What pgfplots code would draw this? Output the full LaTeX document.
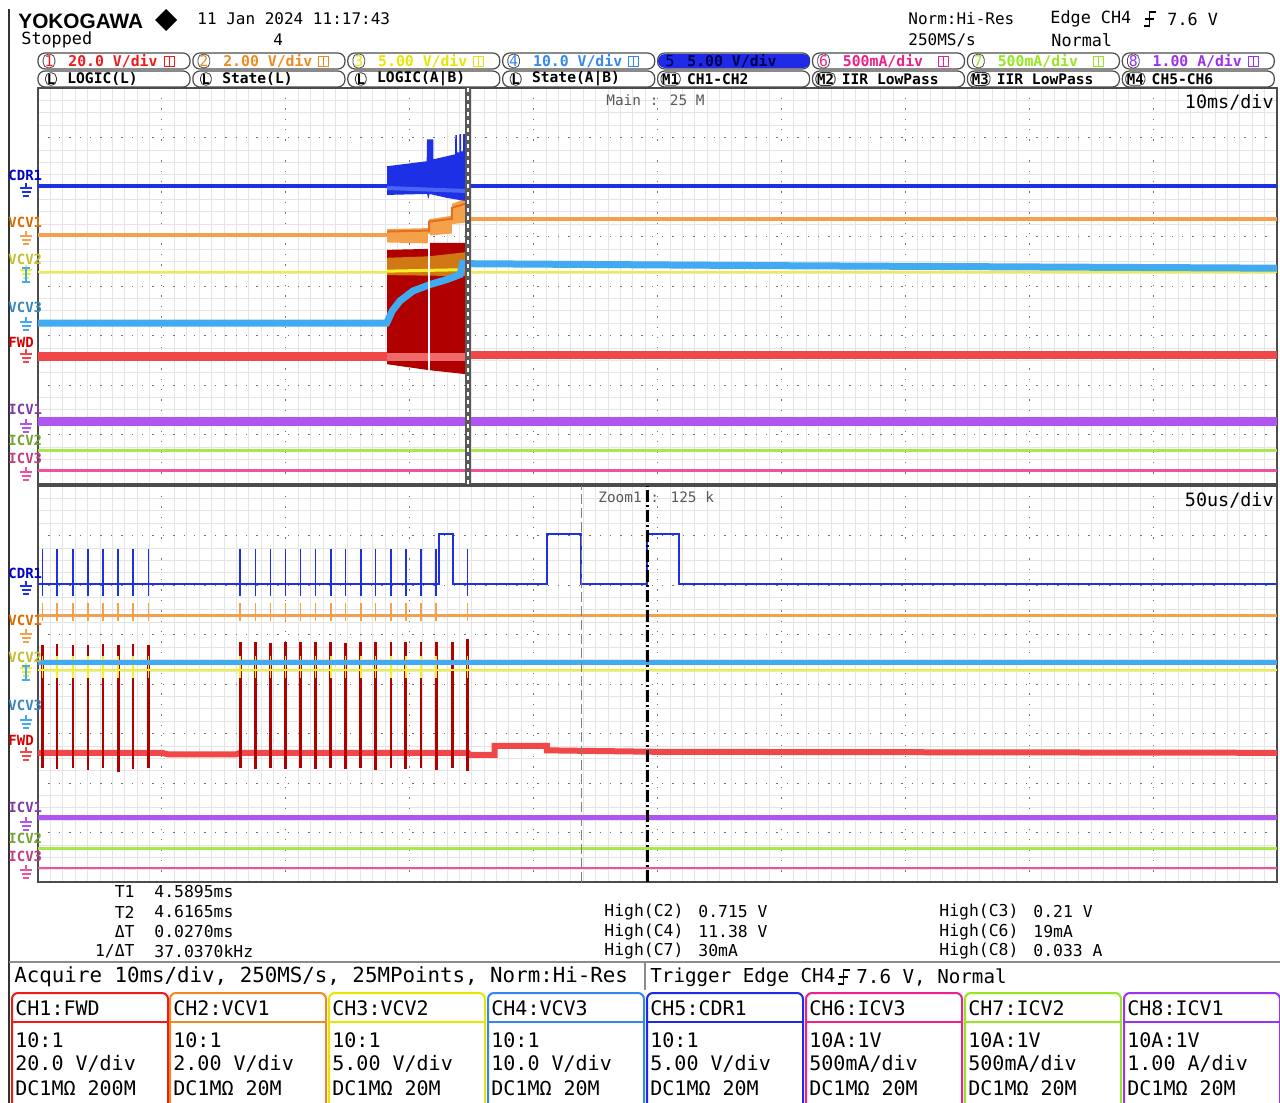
\documentclass[border=0pt]{standalone}
\usepackage{pgfplots}
\pgfplotsset{compat=1.18}
\usepackage{fontspec}
\setmainfont{DejaVu Sans Mono}
\newfontfamily\logofont{Liberation Sans}

% trace colours
\definecolor{cdrc}{HTML}{1E30E6}
\definecolor{cdrlt}{HTML}{4A66F2}
\definecolor{vcva}{HTML}{F5A04A}
\definecolor{vcvadk}{HTML}{E07020}
\definecolor{vcvb}{HTML}{F2F02A}
\definecolor{vcvc}{HTML}{42AAF0}
\definecolor{fwdc}{HTML}{F04848}
\definecolor{fwddk}{HTML}{B00000}
\definecolor{fwdlt}{HTML}{EE6A6A}
\definecolor{icva}{HTML}{B055F0}
\definecolor{icvb}{HTML}{A8E84A}
\definecolor{icvc}{HTML}{F0509C}
% channel label colours
\definecolor{chr}{HTML}{F01A1A}
\definecolor{cho}{HTML}{F08A20}
\definecolor{chy}{HTML}{E6E600}
\definecolor{chb}{HTML}{3388F0}
\definecolor{chB}{HTML}{1E2AE6}
\definecolor{chp}{HTML}{F0208A}
\definecolor{chg}{HTML}{96E620}
\definecolor{chv}{HTML}{9A30F0}

\newcommand\fs[1]{\fontsize{#1}{#1}\selectfont}
\newcommand\gnd[3]{% x, y, colour
  \draw[#3, line width=0.8pt] (#1,#2-5) -- (#1,#2)
    (#1-6,#2) -- (#1+6,#2) (#1-4.5,#2+4) -- (#1+4.5,#2+4) (#1-3,#2+8) -- (#1+3,#2+8);}
\newcommand\edgesym[3]{% x, y, half height
  \draw[line width=0.8pt] (#1,#2+#3) -- (#1+#3*0.8,#2+#3) -- (#1+#3*0.8,#2-#3) -- (#1+#3*1.7,#2-#3)
    (#1+#3*0.2,#2) -- (#1+#3*1.4,#2);}

\pgfplotsset{
  panel/.style={scale only axis, width=619.5pt, height=198pt, anchor=south west,
    xmin=0, xmax=10, ymin=0, ymax=8, xtick={0,...,10}, ytick={0,...,8},
    minor x tick num=9, minor y tick num=3, xticklabels={}, yticklabels={},
    tick style={draw=none}, grid=both,
    major grid style={black!55, line width=0.5pt, dash pattern=on 0.7pt off 4.5pt},
    minor grid style={black!10, line width=0.35pt},
    axis line style={black!70, line width=0.8pt},
    unbounded coords=jump, clip=true},
}

\begin{document}
\begin{tikzpicture}
\useasboundingbox (0,0) rectangle (640pt,-551.5pt);
\fill[white] (0,0) rectangle (640pt,-551.5pt);

% ---------------- main window (10ms/div) ----------------
\begin{axis}[panel, at={(19pt,-242pt)}]
\addplot[icvc, line width=1.5pt] coordinates {(0,0.27)(10,0.27)};
\addplot[icvb, line width=1.5pt] coordinates {(0,0.67)(10,0.67)};
\addplot[icva, line width=4.5pt] coordinates {(0,1.27)(10,1.27)};
% FWD
\addplot[fwdc, line width=4.5pt] coordinates {(0,2.57)(2.817,2.57)};
\addplot[fwdc, line width=4pt] coordinates {(3.495,2.61)(10,2.61)};
\addplot[fill=fwddk, draw=none] coordinates {(2.817,2.42)(2.817,4.73)(3.156,4.75)(3.156,4.87)(3.446,4.87)(3.446,2.22)(3.341,2.25)(3.156,2.30)} -- cycle;
\addplot[fwdlt, line width=4pt] coordinates {(2.817,2.57)(3.446,2.57)};
% VCV2
\addplot[vcvb, line width=1.2pt] coordinates {(0,4.28)(2.817,4.28)};
\addplot[fill=vcvb, draw=none, fill opacity=0.5] coordinates {(2.817,4.22)(2.817,4.57)(3.156,4.60)(3.446,4.68)(3.446,4.20)} -- cycle;
\addplot[vcvb, line width=1.5pt] coordinates {(2.817,4.30)(3.446,4.33)};
\addplot[vcvb, line width=1.2pt] coordinates {(3.495,4.28)(10,4.28)};
% VCV3
\addplot[vcvc, line width=3.5pt] coordinates {(0,3.25)(2.814,3.25)(2.86,3.50)(2.922,3.70)(3.027,3.90)(3.164,4.03)(3.299,4.13)(3.406,4.23)(3.428,4.46)(3.446,4.46)};
\addplot[vcvc, line width=3.5pt] coordinates {(3.495,4.45)(6,4.41)(10,4.36)};
% VCV1
\addplot[vcva, line width=2pt] coordinates {(0,5.04)(2.817,5.04)};
\addplot[fill=vcva, draw=none] coordinates {(2.817,4.88)(2.817,5.15)(3.156,5.17)(3.156,5.35)(3.341,5.42)(3.341,5.66)(3.446,5.76)(3.446,5.28)(3.341,5.25)(3.341,5.06)(3.156,5.02)(3.156,4.86)} -- cycle;
\addplot[vcvadk, line width=1pt] coordinates {(2.817,5.10)(3.156,5.12)(3.156,5.30)(3.341,5.36)(3.341,5.58)(3.446,5.66)};
\addplot[vcva, line width=2pt] coordinates {(3.495,5.36)(10,5.36)};
% CDR1
\addplot[cdrc, line width=2pt] coordinates {(0,6.03)(2.817,6.03)};
\addplot[fill=cdrc, draw=none] coordinates {(2.817,5.84)(2.817,6.42)(3.137,6.52)(3.140,6.96)(3.190,6.96)(3.192,6.56)(3.366,6.66)(3.368,7.05)(3.380,7.05)(3.382,6.70)(3.400,6.70)(3.402,7.07)(3.414,7.07)(3.416,6.72)(3.430,6.72)(3.432,7.07)(3.446,7.07)(3.446,5.72)(3.300,5.78)(3.160,5.86)(3.150,5.76)(3.140,5.86)} -- cycle;
\addplot[cdrlt, line width=2pt] coordinates {(2.817,5.98)(3.446,5.92)};
\addplot[cdrc, line width=2pt] coordinates {(3.495,6.03)(10,6.03)};
% marker line inside the burst
\addplot[white, line width=0.8pt] coordinates {(3.156,2.28)(3.156,5.05)};
% zoom window marker
\addplot[black!65, line width=3pt] coordinates {(3.4705,0)(3.4705,8)};
\addplot[white, line width=1.2pt, dash pattern=on 2pt off 2pt] coordinates {(3.4705,0)(3.4705,8)};
\end{axis}

% ---------------- zoom window (50us/div) ----------------
\begin{axis}[panel, at={(19pt,-441pt)}]
\addplot[icvc, line width=1.1pt] coordinates {(0,0.28)(10,0.28)};
\addplot[icvb, line width=1.5pt] coordinates {(0,0.67)(10,0.67)};
\addplot[icva, line width=2.2pt] coordinates {(0,1.30)(10,1.30)};
% FWD
\addplot[fwdc, line width=3pt] coordinates {(0,2.61)(1.00,2.61)(1.05,2.58)(1.60,2.58)(1.63,2.61)(3.47,2.61)(3.48,2.57)(3.685,2.57)(3.685,2.75)(4.107,2.75)(4.107,2.66)(5,2.63)(10,2.61)};
\addplot[fwddk, line width=1.3pt] coordinates {
(0.036,2.30)(0.036,4.78)(0.036,nan)(0.154,2.28)(0.154,4.80)(0.154,nan)(0.281,2.30)(0.281,4.79)(0.281,nan)
(0.403,2.26)(0.403,4.79)(0.403,nan)(0.525,2.30)(0.525,4.80)(0.525,nan)(0.648,2.22)(0.648,4.79)(0.648,nan)
(0.767,2.28)(0.767,4.80)(0.767,nan)(0.893,2.30)(0.893,4.79)(0.893,nan)
(1.632,2.30)(1.632,4.84)(1.632,nan)(1.755,2.28)(1.755,4.84)(1.755,nan)(1.877,2.30)(1.877,4.83)(1.877,nan)
(1.998,2.28)(1.998,4.84)(1.998,nan)(2.118,2.30)(2.118,4.84)(2.118,nan)(2.241,2.28)(2.241,4.84)(2.241,nan)
(2.363,2.30)(2.363,4.84)(2.363,nan)(2.482,2.28)(2.482,4.83)(2.482,nan)(2.605,2.30)(2.605,4.84)(2.605,nan)
(2.723,2.26)(2.723,4.84)(2.723,nan)(2.849,2.30)(2.849,4.84)(2.849,nan)(2.968,2.28)(2.968,4.84)(2.968,nan)
(3.091,2.30)(3.091,4.84)(3.091,nan)(3.214,2.26)(3.214,4.84)(3.214,nan)(3.347,2.30)(3.347,4.85)(3.347,nan)
(3.466,2.24)(3.466,4.91)};
% VCV2 / VCV3
\addplot[vcvb, line width=1.2pt] coordinates {(0,4.28)(10,4.28)};
\addplot[vcvb, line width=0.8pt] coordinates {
(0.036,4.12)(0.036,4.56)(0.036,nan)(0.154,4.12)(0.154,4.56)(0.154,nan)(0.281,4.12)(0.281,4.56)(0.281,nan)
(0.403,4.12)(0.403,4.56)(0.403,nan)(0.525,4.12)(0.525,4.56)(0.525,nan)(0.648,4.12)(0.648,4.56)(0.648,nan)
(0.767,4.12)(0.767,4.56)(0.767,nan)(0.893,4.12)(0.893,4.56)(0.893,nan)
(1.632,4.12)(1.632,4.56)(1.632,nan)(1.755,4.12)(1.755,4.56)(1.755,nan)(1.877,4.12)(1.877,4.56)(1.877,nan)
(1.998,4.12)(1.998,4.56)(1.998,nan)(2.118,4.12)(2.118,4.56)(2.118,nan)(2.241,4.12)(2.241,4.56)(2.241,nan)
(2.363,4.12)(2.363,4.56)(2.363,nan)(2.482,4.12)(2.482,4.56)(2.482,nan)(2.605,4.12)(2.605,4.56)(2.605,nan)
(2.723,4.12)(2.723,4.56)(2.723,nan)(2.849,4.12)(2.849,4.56)(2.849,nan)(2.968,4.12)(2.968,4.56)(2.968,nan)
(3.091,4.12)(3.091,4.56)(3.091,nan)(3.214,4.12)(3.214,4.56)(3.214,nan)(3.466,4.12)(3.466,4.56)};
\addplot[vcvc, line width=2.5pt] coordinates {(0,4.43)(10,4.43)};
% VCV1
\addplot[vcva, line width=1.6pt] coordinates {(0,5.39)(10,5.39)};
\addplot[vcva, line width=0.8pt] coordinates {
(0.036,5.27)(0.036,5.64)(0.036,nan)(0.154,5.27)(0.154,5.64)(0.154,nan)(0.281,5.27)(0.281,5.64)(0.281,nan)
(0.403,5.27)(0.403,5.64)(0.403,nan)(0.525,5.27)(0.525,5.64)(0.525,nan)(0.648,5.27)(0.648,5.64)(0.648,nan)
(0.767,5.27)(0.767,5.64)(0.767,nan)(0.893,5.27)(0.893,5.64)(0.893,nan)
(1.632,5.27)(1.632,5.64)(1.632,nan)(1.755,5.27)(1.755,5.64)(1.755,nan)(1.877,5.27)(1.877,5.64)(1.877,nan)
(1.998,5.27)(1.998,5.64)(1.998,nan)(2.118,5.27)(2.118,5.64)(2.118,nan)(2.241,5.27)(2.241,5.64)(2.241,nan)
(2.363,5.27)(2.363,5.64)(2.363,nan)(2.482,5.27)(2.482,5.64)(2.482,nan)(2.605,5.27)(2.605,5.64)(2.605,nan)
(2.723,5.27)(2.723,5.64)(2.723,nan)(2.849,5.27)(2.849,5.64)(2.849,nan)(2.968,5.27)(2.968,5.64)(2.968,nan)
(3.091,5.27)(3.091,5.64)(3.091,nan)(3.214,5.27)(3.214,5.64)(3.214,nan)(3.466,5.27)(3.466,5.64)};
% CDR1
\addplot[cdrc, line width=1pt] coordinates {(0,6.03)(3.239,6.03)(3.239,7.04)(3.347,7.04)(3.347,6.03)(4.107,6.03)(4.107,7.04)(4.385,7.04)(4.385,6.03)(4.918,6.03)(4.918,7.04)(5.170,7.04)(5.170,6.03)(10,6.03)};
\addplot[cdrc, line width=0.8pt] coordinates {
(0.036,5.78)(0.036,6.73)(0.036,nan)(0.154,5.78)(0.154,6.73)(0.154,nan)(0.281,5.78)(0.281,6.73)(0.281,nan)
(0.403,5.78)(0.403,6.73)(0.403,nan)(0.525,5.78)(0.525,6.73)(0.525,nan)(0.648,5.78)(0.648,6.73)(0.648,nan)
(0.767,5.78)(0.767,6.73)(0.767,nan)(0.893,5.78)(0.893,6.73)(0.893,nan)
(1.632,5.78)(1.632,6.73)(1.632,nan)(1.755,5.78)(1.755,6.73)(1.755,nan)(1.877,5.78)(1.877,6.73)(1.877,nan)
(1.998,5.78)(1.998,6.73)(1.998,nan)(2.118,5.78)(2.118,6.73)(2.118,nan)(2.241,5.78)(2.241,6.73)(2.241,nan)
(2.363,5.78)(2.363,6.73)(2.363,nan)(2.482,5.78)(2.482,6.73)(2.482,nan)(2.605,5.78)(2.605,6.73)(2.605,nan)
(2.723,5.78)(2.723,6.73)(2.723,nan)(2.849,5.78)(2.849,6.73)(2.849,nan)(2.968,5.78)(2.968,6.73)(2.968,nan)
(3.091,5.78)(3.091,6.73)(3.091,nan)(3.214,5.78)(3.214,6.73)(3.214,nan)(3.466,5.78)(3.466,6.73)};
% cursors
\addplot[black!50, line width=0.7pt, dash pattern=on 5pt off 2pt] coordinates {(4.385,0)(4.385,8)};
\addplot[black, line width=1.3pt, dash pattern=on 6pt off 1.5pt on 1pt off 1.5pt] coordinates {(4.918,0)(4.918,8)};
\end{axis}

% ---------------- texts (reference pixel coordinates) ----------------
\begin{scope}[x=0.5pt, y=-0.5pt]
\draw[black!80, line width=0.8pt] (9,9) -- (9,1103);
% header
\node[anchor=west, inner sep=0, font=\logofont\bfseries\fs{10.4}] at (18,21) {YOKOGAWA};
\fill (166,9) -- (177,20) -- (166,31) -- (155,20) -- cycle;
\node[anchor=west, inner sep=0, font=\fs{8}] at (197,19) {11 Jan 2024 11:17:43};
\node[anchor=west, inner sep=0, font=\fs{8.4}] at (21,40) {Stopped};
\node[anchor=west, inner sep=0, font=\fs{8}] at (273,40) {4};
\node[anchor=west, inner sep=0, font=\fs{8}] at (908,19) {Norm:Hi-Res};
\node[anchor=west, inner sep=0, font=\fs{8}] at (908,40) {250MS/s};
\node[anchor=west, inner sep=0, font=\fs{8.4}] at (1050,19) {Edge CH4};
\edgesym{1144}{19}{7}
\node[anchor=west, inner sep=0, font=\fs{8.4}] at (1167,19) {7.6 V};
\node[anchor=west, inner sep=0, font=\fs{8.4}] at (1051,40) {Normal};
% channel setting rows
\foreach \n/\lbl/\c [count=\i from 0] in {1/{20.0 V/div}/chr, 2/{2.00 V/div}/cho, 3/{5.00 V/div}/chy, 4/{10.0 V/div}/chb, 5/{5.00 V/div}/chB, 6/{500mA/div}/chp, 7/{500mA/div}/chg, 8/{1.00 A/div}/chv} {
  \pgfmathsetmacro\xo{38+154.9*\i}
  \draw[black!70, line width=0.6pt, rounded corners=3.5pt] (\xo,53) rectangle (\xo+152,69);
  \node[draw=black!70, rounded corners=2.5pt, inner sep=0.7pt, text=\c, font=\fs{7.4}] at (\xo+11,61) {\n};
  \node[anchor=west, inner sep=0, text=\c, font=\bfseries\fs{7.4}] at (\xo+30,61) {\lbl};
  \draw[\c, line width=0.5pt] (\xo+126,56) rectangle (\xo+136,66) (\xo+131,56) -- (\xo+131,66);
}
\fill[chB, rounded corners=3.5pt] (658,54) rectangle (810,68);
\node[anchor=west, inner sep=0, text=black!70!blue, font=\fs{7.6}] at (665,61) {5};
\node[anchor=west, inner sep=0, text=black!70!blue, font=\bfseries\fs{7.4}] at (687,61) {5.00 V/div};
\foreach \m/\lbl [count=\i from 0] in {L/{LOGIC(L)}, L/{State(L)}, L/{LOGIC(A|B)}, L/{State(A|B)}, M1/{CH1-CH2}, M2/{IIR LowPass}, M3/{IIR LowPass}, M4/{CH5-CH6}} {
  \pgfmathsetmacro\xo{38+154.9*\i}
  \draw[black!70, line width=0.6pt, rounded corners=3.5pt] (\xo,71) rectangle (\xo+152,87);
  \node[draw=black!80, rounded corners=2.5pt, inner sep=0.6pt, font=\bfseries\fs{7}] at (\xo+13,79) {\m};
  \node[anchor=west, inner sep=0, font=\bfseries\fs{7.3}] at (\xo+29,79) {\lbl};
}
% panel captions
\node[anchor=west, inner sep=0, text=black!65, font=\fs{7.2}] at (606,100) {Main : 25 M};
\node[anchor=east, inner sep=0, font=\fs{9.2}] at (1274,102) {10ms/div};
\node[anchor=west, inner sep=0, text=black!65, font=\fs{7.2}] at (598,497) {Zoom1 : 125 k};
\node[anchor=east, inner sep=0, font=\fs{9.2}] at (1274,500) {50us/div};
% trace labels and ground marks, both windows
\foreach \dy in {0,398} {
  \node[anchor=west, inner sep=0, text=blue!80!black, font=\bfseries\fs{7}] at (8,175+\dy) {CDR1};
  \gnd{26}{188+\dy}{cdrc}
  \node[anchor=west, inner sep=0, text=orange!85!black, font=\bfseries\fs{7}] at (8,222+\dy) {VCV1};
  \gnd{26}{236+\dy}{vcva}
  \node[anchor=west, inner sep=0, text=yellow!75!black, font=\bfseries\fs{7}] at (8,259+\dy) {VCV2};
  \gnd{26}{270+\dy}{vcvb}
  \draw[vcvc, line width=1pt] (22,268+\dy) -- (30,268+\dy) (26,268+\dy) -- (26,282+\dy) (22,282+\dy) -- (30,282+\dy);
  \node[anchor=west, inner sep=0, text=vcvc!80!black, font=\bfseries\fs{7}] at (8,307+\dy) {VCV3};
  \gnd{26}{322+\dy}{vcvc}
  \node[anchor=west, inner sep=0, text=red!85!black, font=\bfseries\fs{7}] at (8,342+\dy) {FWD};
  \gnd{26}{354+\dy}{fwdc}
  \node[anchor=west, inner sep=0, text=icva!70!black, font=\bfseries\fs{7}] at (8,409+\dy) {ICV1};
  \gnd{26}{424+\dy}{icva}
  \node[anchor=west, inner sep=0, text=icvb!70!black, font=\bfseries\fs{7}] at (8,440+\dy) {ICV2};
  \node[anchor=west, inner sep=0, text=icvc!80!black, font=\bfseries\fs{7}] at (8,458+\dy) {ICV3};
  \gnd{26}{472+\dy}{icvc}
}
% measurements
\node[anchor=east, inner sep=0, font=\fs{8.2}] at (135,892) {T1};
\node[anchor=east, inner sep=0, font=\fs{8.2}] at (135,912) {T2};
\node[anchor=east, inner sep=0, font=\fs{8.2}] at (135,932) {ΔT};
\node[anchor=east, inner sep=0, font=\fs{8.2}] at (135,951) {1/ΔT};
\node[anchor=west, inner sep=0, font=\fs{8.2}] at (154,892) {4.5895ms};
\node[anchor=west, inner sep=0, font=\fs{8.2}] at (154,912) {4.6165ms};
\node[anchor=west, inner sep=0, font=\fs{8.2}] at (154,932) {0.0270ms};
\node[anchor=west, inner sep=0, font=\fs{8.2}] at (154,951) {37.0370kHz};
\node[anchor=west, inner sep=0, font=\fs{8.2}] at (604,912) {High(C2)};
\node[anchor=west, inner sep=0, font=\fs{8.2}] at (604,932) {High(C4)};
\node[anchor=west, inner sep=0, font=\fs{8.2}] at (604,951) {High(C7)};
\node[anchor=west, inner sep=0, font=\fs{8.2}] at (698,912) {0.715 V};
\node[anchor=west, inner sep=0, font=\fs{8.2}] at (698,932) {11.38 V};
\node[anchor=west, inner sep=0, font=\fs{8.2}] at (698,951) {30mA};
\node[anchor=west, inner sep=0, font=\fs{8.2}] at (939,912) {High(C3)};
\node[anchor=west, inner sep=0, font=\fs{8.2}] at (939,932) {High(C6)};
\node[anchor=west, inner sep=0, font=\fs{8.2}] at (939,951) {High(C8)};
\node[anchor=west, inner sep=0, font=\fs{8.2}] at (1033,912) {0.21 V};
\node[anchor=west, inner sep=0, font=\fs{8.2}] at (1033,932) {19mA};
\node[anchor=west, inner sep=0, font=\fs{8.2}] at (1033,951) {0.033 A};
% acquisition row
\draw[black!45, line width=0.7pt] (9,962) -- (1280,962);
\draw[black!45, line width=0.7pt] (645,962) -- (645,990);
\node[anchor=west, inner sep=0, font=\fs{10.4}] at (14,977) {Acquire 10ms/div, 250MS/s, 25MPoints, Norm:Hi-Res};
\node[anchor=west, inner sep=0, font=\fs{9.6}] at (650,977) {Trigger Edge CH4};
\edgesym{838}{977}{7}
\node[anchor=west, inner sep=0, font=\fs{9.6}] at (856,977) {7.6 V, Normal};
% channel boxes
\foreach \x/\c/\h/\a/\b/\d in {12/chr/{CH1:FWD}/{10:1}/{20.0 V/div}/{DC1MΩ 200M}, 170/cho/{CH2:VCV1}/{10:1}/{2.00 V/div}/{DC1MΩ 20M}, 329/chy/{CH3:VCV2}/{10:1}/{5.00 V/div}/{DC1MΩ 20M}, 488/chb/{CH4:VCV3}/{10:1}/{10.0 V/div}/{DC1MΩ 20M}, 647/chB/{CH5:CDR1}/{10:1}/{5.00 V/div}/{DC1MΩ 20M}, 806/chp/{CH6:ICV3}/{10A:1V}/{500mA/div}/{DC1MΩ 20M}, 965/chg/{CH7:ICV2}/{10A:1V}/{500mA/div}/{DC1MΩ 20M}, 1124/chv/{CH8:ICV1}/{10A:1V}/{1.00 A/div}/{DC1MΩ 20M}} {
  \draw[\c, line width=1pt, rounded corners=3pt] (\x,1104) -- (\x,993) -- (\x+156,993) -- (\x+156,1104);
  \draw[\c, line width=1pt] (\x,1022) -- (\x+156,1022);
  \node[anchor=west, inner sep=0, font=\fs{10}] at (\x+3,1008) {\h};
  \node[anchor=west, inner sep=0, font=\fs{10}] at (\x+3,1040) {\a};
  \node[anchor=west, inner sep=0, font=\fs{10}] at (\x+3,1064) {\b};
  \node[anchor=west, inner sep=0, font=\fs{10}] at (\x+3,1088) {\d};
}
\end{scope}
\end{tikzpicture}
\end{document}
